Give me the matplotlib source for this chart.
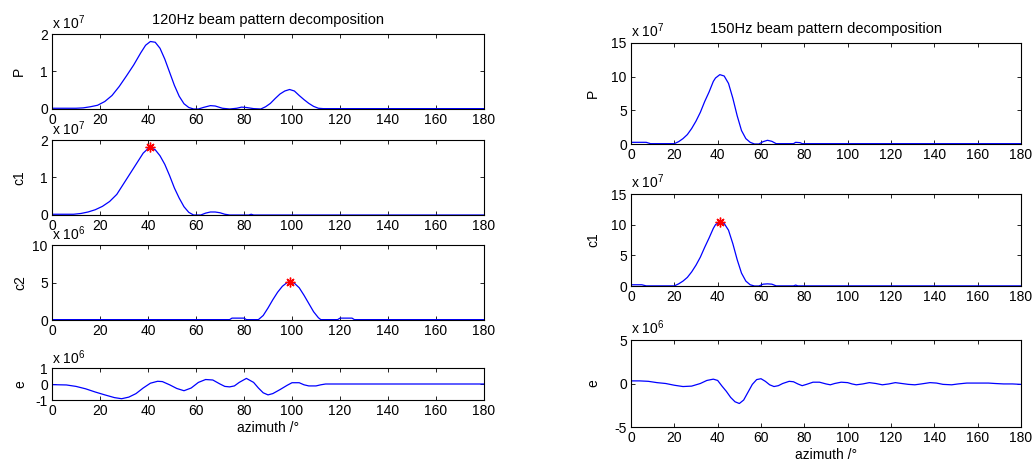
import numpy as np
import matplotlib
matplotlib.use('Agg')
from matplotlib import pyplot as plt

plt.rcParams['font.family'] = ['Liberation Sans', 'DejaVu Sans']
plt.rcParams['mathtext.fontset'] = 'custom'
plt.rcParams['mathtext.rm'] = 'Liberation Sans'
plt.rcParams['axes.unicode_minus'] = False
plt.rcParams['font.size'] = 10

# ---- 120 Hz decomposition ----
az_p120 = [0, 10, 13, 16, 19, 22, 25, 28, 31, 34, 37, 39, 41, 43, 45, 47, 49, 51, 53, 55, 57, 59,
           61, 63, 66, 68, 71, 74, 77, 79, 81, 84, 87, 89, 91, 93, 95, 97, 99, 101, 103, 105, 107,
           109, 111, 113, 180]
p120 = [0.02, 0.02, 0.03, 0.06, 0.10, 0.20, 0.36, 0.60, 0.88, 1.17, 1.50, 1.70, 1.80, 1.78, 1.62,
        1.33, 0.98, 0.63, 0.34, 0.14, 0.04, 0.0, 0.0, 0.04, 0.09, 0.08, 0.02, 0.0, 0.02, 0.05, 0.04,
        0.01, 0.0, 0.06, 0.15, 0.28, 0.40, 0.48, 0.52, 0.48, 0.36, 0.25, 0.15, 0.07, 0.02, 0.01, 0.01]

az_c1_120 = [0, 9, 12, 15, 18, 21, 24, 27, 30, 33, 36, 38, 40, 41, 43, 45, 47, 49, 51, 53, 55, 57,
             59, 62, 64, 66, 68, 70, 72, 74, 82, 83, 84, 180]
c1_120 = [0.02, 0.02, 0.04, 0.08, 0.14, 0.23, 0.36, 0.55, 0.85, 1.15, 1.45, 1.65, 1.77, 1.80, 1.74,
          1.58, 1.35, 1.05, 0.72, 0.45, 0.22, 0.07, 0.0, 0.0, 0.05, 0.08, 0.08, 0.06, 0.02, 0.0,
          0.0, 0.02, 0.0, 0.0]

az_c2_120 = [0, 74, 75, 80, 81, 86, 88, 90, 92, 94, 96, 98, 99, 101, 103, 105, 107, 109, 111, 112,
             119, 120, 125, 126, 180]
c2_120 = [0.05, 0.05, 0.25, 0.25, 0.05, 0.05, 0.6, 1.6, 2.7, 3.7, 4.5, 5.0, 5.1, 4.9, 4.3, 3.3, 2.2,
          1.1, 0.3, 0.05, 0.05, 0.25, 0.25, 0.05, 0.05]

az_e120 = [0, 6, 10, 14, 18, 22, 26, 29, 32, 35, 38, 41, 44, 46, 49, 52, 55, 58, 61, 64, 67, 70,
           72, 74, 76, 78, 81, 84, 86, 88, 90, 92, 95, 98, 100, 103, 105, 107, 110, 112, 114, 180]
e120 = [-0.04, -0.06, -0.15, -0.3, -0.5, -0.68, -0.85, -0.92, -0.82, -0.6, -0.25, 0.05, 0.17, 0.15,
        -0.05, -0.28, -0.42, -0.25, 0.1, 0.28, 0.25, 0.0, -0.15, -0.18, -0.12, 0.1, 0.35, 0.1,
        -0.25, -0.55, -0.68, -0.6, -0.35, -0.08, 0.08, 0.08, -0.05, -0.12, -0.12, -0.05, 0.0, 0.0]

# ---- 150 Hz decomposition ----
az_p150 = [0, 7, 9, 20, 22, 24, 26, 28, 30, 32, 34, 36, 38, 39, 41, 43, 45, 47, 49, 51, 53, 55,
           57, 59, 61, 63, 65, 67, 75, 76, 78, 79, 180]
p150 = [0.25, 0.25, 0.05, 0.05, 0.35, 0.8, 1.4, 2.3, 3.4, 4.7, 6.3, 7.7, 9.3, 9.8, 10.3, 10.1, 9.0,
        6.8, 4.2, 2.0, 0.8, 0.25, 0.0, 0.0, 0.35, 0.55, 0.4, 0.05, 0.05, 0.25, 0.2, 0.05, 0.05]

az_c1_150 = [0, 5, 7, 20, 22, 24, 26, 28, 30, 32, 34, 36, 38, 39, 41, 43, 45, 47, 49, 51, 53, 55,
             57, 59, 61, 63, 65, 67, 75, 76, 77, 180]
c1_150 = [0.2, 0.2, 0.02, 0.02, 0.35, 0.8, 1.4, 2.3, 3.4, 4.7, 6.3, 7.8, 9.4, 10.0, 10.5, 10.2,
          9.1, 6.9, 4.3, 2.1, 0.8, 0.2, 0.0, 0.0, 0.3, 0.35, 0.3, 0.02, 0.02, 0.15, 0.02, 0.02]

az_e150 = [0, 4, 8, 12, 16, 20, 24, 28, 32, 35, 38, 40, 42, 44, 46, 48, 50, 52, 54, 56, 58, 60,
           62, 64, 66, 68, 70, 73, 75, 77, 79, 81, 84, 87, 90, 92, 94, 97, 100, 102, 104, 107, 110,
           113, 116, 119, 122, 125, 128, 131, 134, 138, 141, 144, 148, 151, 155, 160, 165, 168,
           172, 176, 180]
e150 = [0.3, 0.3, 0.25, 0.1, 0.0, -0.2, -0.35, -0.3, 0.0, 0.35, 0.5, 0.35, -0.3, -0.9, -1.6, -2.1,
        -2.3, -1.9, -1.0, -0.1, 0.45, 0.55, 0.25, -0.15, -0.35, -0.25, 0.0, 0.25, 0.2, -0.05,
        -0.25, -0.1, 0.15, 0.15, -0.05, -0.15, 0.0, 0.15, 0.1, -0.05, -0.15, -0.05, 0.1, 0.0,
        -0.15, -0.05, 0.1, 0.0, -0.1, -0.15, -0.05, 0.1, 0.05, -0.1, -0.15, -0.05, 0.05, 0.05,
        0.05, 0.0, -0.05, -0.05, -0.1]

W, H = 1033, 461
fig = plt.figure(figsize=(W / 100, H / 100), dpi=100)


def panel(px, py, pw, ph, az, val, ylim, yticks, ylabel, expo, star=False, xlabel=None,
          title=None, lpad=4):
    ax = fig.add_axes([px / W, 1 - (py + ph) / H, pw / W, ph / H])
    ax.plot(az, val, color='#0000ff', lw=0.9)
    if star:
        i = int(np.argmax(val))
        ax.plot(az[i], val[i], ls='none', marker=(8, 2, 0), ms=7, mew=1.0, color='#ff0000')
    ax.set_xlim(0, 180)
    ax.set_xticks(np.arange(0, 181, 20))
    ax.set_ylim(*ylim)
    ax.set_yticks(yticks)
    ax.tick_params(direction='in', top=True, right=True, length=3, width=0.6, pad=3)
    for s in ax.spines.values():
        s.set_linewidth(0.8)
    ax.set_ylabel(ylabel, labelpad=lpad)
    ax.text(0, 1.03, r'x 10$^{%d}$' % expo, transform=ax.transAxes, ha='left', va='bottom')
    if xlabel:
        ax.set_xlabel(xlabel, labelpad=2)
    if title:
        ax.set_title(title, pad=7, fontsize=10.5)
    return ax


# left column: 120 Hz
panel(52, 34, 432, 75, az_p120, p120, (0, 2), [0, 1, 2], 'P', 7,
      title='120Hz beam pattern decomposition', lpad=10)
panel(52, 140, 432, 75, az_c1_120, c1_120, (0, 2), [0, 1, 2], 'c1', 7, star=True, lpad=10)
panel(52, 245, 432, 75, az_c2_120, c2_120, (0, 10), [0, 5, 10], 'c2', 6, star=True, lpad=4)
panel(52, 368, 432, 32, az_e120, e120, (-1, 1), [-1, 0, 1], 'e', 6, xlabel='azimuth /°', lpad=6)

# right column: 150 Hz
panel(631, 43, 390, 101, az_p150, p150, (0, 15), [0, 5, 10, 15], 'P', 7,
      title='150Hz beam pattern decomposition', lpad=8)
panel(631, 194, 390, 92, az_c1_150, c1_150, (0, 15), [0, 5, 10, 15], 'c1', 7, star=True, lpad=8)
panel(631, 340, 390, 87, az_e150, e150, (-5, 5), [-5, 0, 5], 'e', 6, xlabel='azimuth /°', lpad=10)

fig.savefig('out.png', dpi=100)
